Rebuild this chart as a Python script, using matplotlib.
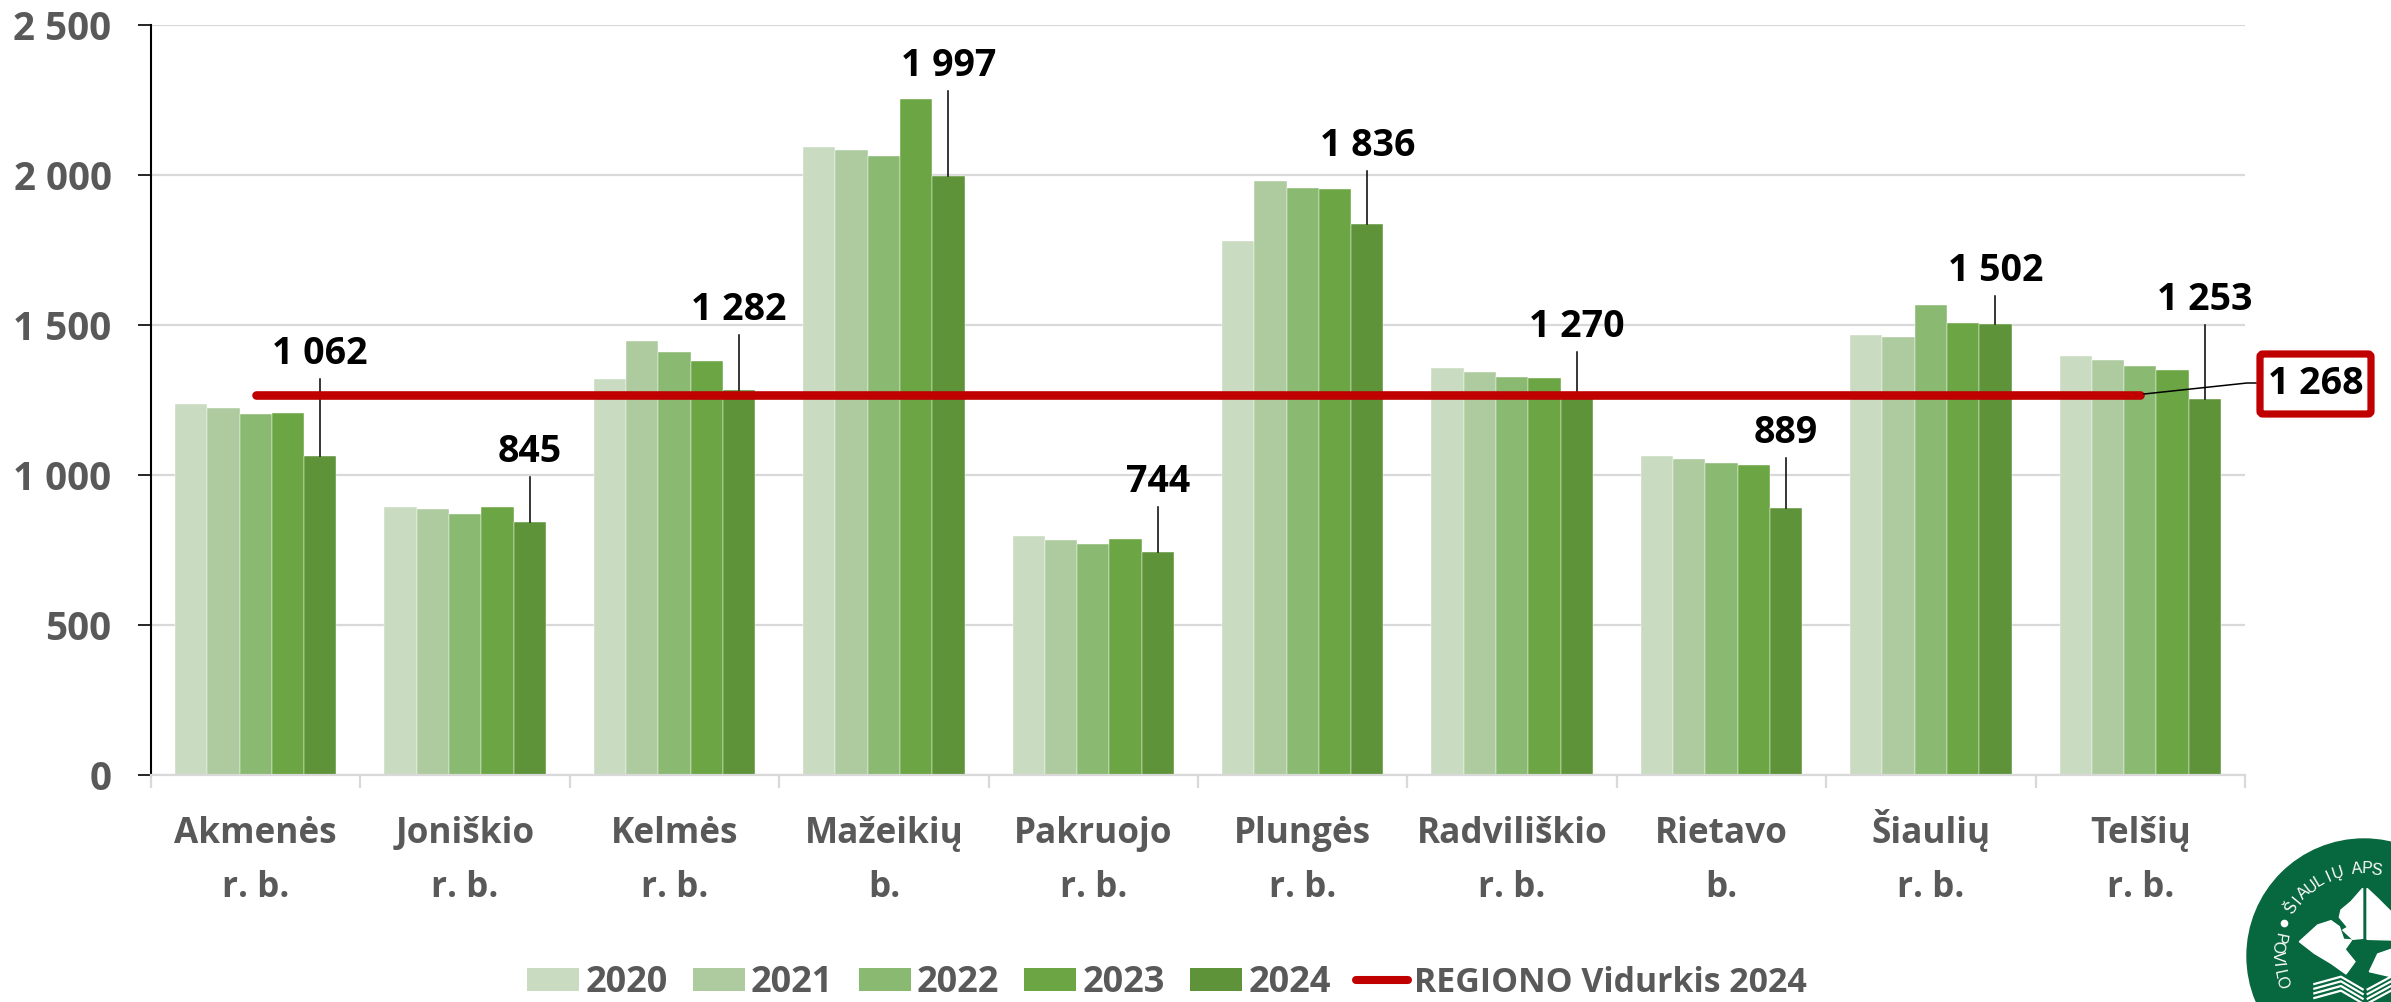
import numpy as np
import matplotlib
matplotlib.use("Agg")
import matplotlib.pyplot as plt
from matplotlib.patches import Circle, Polygon, FancyBboxPatch, Patch
from matplotlib.lines import Line2D

plt.rcParams['font.family'] = ['Open Sans', 'DejaVu Sans']

libraries = ['Akmenės', 'Joniškio', 'Kelmės', 'Mažeikių', 'Pakruojo',
             'Plungės', 'Radviliškio', 'Rietavo', 'Šiaulių', 'Telšių']
library_types = ['r. b.', 'r. b.', 'r. b.', 'b.', 'r. b.', 'r. b.', 'r. b.', 'b.', 'r. b.', 'r. b.']
years = ['2020', '2021', '2022', '2023', '2024']
v2020 = [1236, 893, 1320, 2092, 798, 1780, 1357, 1063, 1468, 1397]
v2021 = [1223, 887, 1446, 2084, 784, 1980, 1343, 1053, 1460, 1385]
v2022 = [1203, 870, 1410, 2064, 771, 1956, 1328, 1041, 1568, 1363]
v2023 = [1206, 892, 1381, 2254, 787, 1952, 1323, 1034, 1508, 1350]
v2024 = [1062, 845, 1282, 1997, 744, 1836, 1270, 889, 1502, 1253]
region_avg = 1268
y_ticks = [0, 500, 1000, 1500, 2000, 2500]
y_labels = ['0', '500', '1 000', '1 500', '2 000', '2 500']
label_texts = ['1 062', '845', '1 282', '1 997', '744', '1 836', '1 270', '889', '1 502', '1 253']
# where the leader line of each label ends, in chart units
label_levels = [1320, 993, 1467, 2280, 893, 2013, 1410, 1057, 1597, 1500]

colors = ['#C9DBC1', '#AECB9F', '#8AB971', '#6CA544', '#5F9339']
red = '#C00000'
gray = '#595959'
grid = '#D9D9D9'
logo_green = '#07673E'

W, H = 2391, 1002
fig = plt.figure(figsize=(W / 100, H / 100), dpi=100)
ax = fig.add_axes([151 / W, (H - 775) / H, 2094 / W, 750 / H])

x = np.arange(len(libraries))
bw = 0.771 / 5
series = [v2020, v2021, v2022, v2023, v2024]
for i in range(5):
    ax.bar(x + (i - 2) * bw, series[i], bw, color=colors[i], edgecolor='white', linewidth=0.3, zorder=2)

ax.set_xlim(-0.5, 9.5)
ax.set_ylim(0, 2500)
ax.yaxis.grid(True, color=grid, linewidth=1.6, zorder=0)
ax.set_axisbelow(True)
for s in ['top', 'right']:
    ax.spines[s].set_visible(False)
ax.spines['left'].set_linewidth(1.5)
ax.spines['bottom'].set_color(grid)
ax.spines['bottom'].set_linewidth(1.6)
ax.set_yticks(y_ticks)
ax.set_yticklabels(y_labels, fontsize=27.8, fontweight='bold', color=gray)
ax.tick_params(axis='y', length=9.4, width=1.2, pad=19)
ax.set_xticks(np.arange(-0.5, 10, 1))
ax.set_xticklabels([])
ax.tick_params(axis='x', which='major', length=9.4, width=1.6, color=grid)

# category names, two lines on fixed baselines so that Š does not push a line down
for i in range(len(libraries)):
    ax.annotate(libraries[i], (x[i], 0), xytext=(0, -49), textcoords='offset points', ha='center', va='baseline',
                fontsize=25.3, fontweight='bold', color=gray, annotation_clip=False)
    ax.annotate(library_types[i], (x[i], 0), xytext=(0, -88), textcoords='offset points', ha='center', va='baseline',
                fontsize=25.3, fontweight='bold', color=gray, annotation_clip=False)

# leader lines and labels of the 2024 bars
for i in range(len(libraries)):
    bx = x[i] + 2 * bw
    ax.plot([bx, bx], [v2024[i], label_levels[i]], color='black', linewidth=1.1, zorder=3)
    ax.annotate(label_texts[i], (bx, label_levels[i]), xytext=(0, 4.5), textcoords='offset points',
                ha='center', va='bottom', fontsize=27, fontweight='bold', color='black',
                annotation_clip=False, zorder=6)

ax.plot(x, [region_avg] * len(x), color=red, linewidth=6.2, solid_capstyle='round', zorder=4)

# overlay in picture pixels: callout box and logo
ov = fig.add_axes([0, 0, 1, 1], facecolor='none')
ov.set_xlim(0, W)
ov.set_ylim(H, 0)
ov.axis('off')

ov.plot([2144, 2247, 2256], [394, 383, 383], color='black', linewidth=1.1, zorder=5)
ov.add_patch(FancyBboxPatch((2260, 354), 111, 60, boxstyle='round,pad=0,rounding_size=3',
                            facecolor='white', edgecolor=red, linewidth=5.2, zorder=6))
ov.text(2316, 384, '1 268', ha='center', va='center', fontsize=27, fontweight='bold', color='black', zorder=7)

# logo, cut by the picture edge
cx, cy, r = 2364, 956, 117
ov.add_patch(Circle((cx, cy), r, color=logo_green, zorder=3))


def zp(pts):
    return [(2231 + a / 3, 830 + b / 3) for a, b in pts]


leaves = [
    [(395, 175), (360, 215), (330, 240), (325, 262), (350, 292), (335, 300), (365, 328), (395, 325)],
    [(408, 175), (440, 205), (480, 245), (520, 270), (510, 300), (480, 330), (408, 328)],
    [(205, 335), (260, 285), (300, 272), (325, 290), (338, 328), (362, 330), (342, 358), (372, 395),
     (345, 432), (300, 400), (250, 370)],
    [(415, 425), (440, 372), (480, 358), (530, 375), (560, 420), (480, 440)],
]
for leaf in leaves:
    ov.add_patch(Polygon(zp(leaf), closed=True, color='white', zorder=4))

# book pages
for off in [0, 14, 28, 42]:
    ov.plot(*zip(*zp([(250, 462 + off), (330, 440 + off), (395, 478 + off)])), color='white', linewidth=1.6, zorder=4)
    ov.plot(*zip(*zp([(410, 478 + off), (480, 440 + off), (560, 462 + off)])), color='white', linewidth=1.6, zorder=4)

for k, ch in enumerate('ŠIAULIŲ APS'):
    ang = 146.7 - k * 6.5
    a = np.radians(ang)
    ov.text(cx + 87 * np.cos(a), cy - 87 * np.sin(a), ch, rotation=ang - 90, rotation_mode='anchor',
            ha='center', va='center', fontsize=11.5, color='white', family='Liberation Sans', zorder=5)
for k, ch in enumerate('POVILO'):
    ang = 168 + k * 6
    a = np.radians(ang)
    ov.text(cx + 87 * np.cos(a), cy - 87 * np.sin(a), ch, rotation=ang + 90, rotation_mode='anchor',
            ha='center', va='center', fontsize=11.5, color='white', family='Liberation Sans', zorder=5)
ov.plot(2284, 923, 'o', color='white', markersize=4.5, zorder=5)

handles = [Patch(facecolor=colors[i], label=years[i]) for i in range(5)]
handles.append(Line2D([0], [0], color=red, linewidth=5.8, solid_capstyle='round', label='REGIONO Vidurkis 2024'))
leg = fig.legend(handles=handles, loc='center', bbox_to_anchor=(1167 / W, 1 - 983 / H), ncols=6, frameon=False,
                 prop={'size': 26, 'weight': 'bold'}, handlelength=1.44, handleheight=0.6, handletextpad=0.17,
                 columnspacing=0.7, borderpad=0, labelcolor=gray)
leg.get_texts()[5].set_fontsize(24.4)

fig.savefig('out.png', dpi=100)
